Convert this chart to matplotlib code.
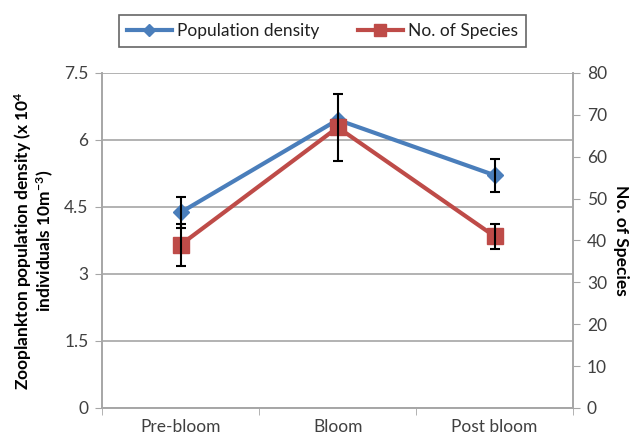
import numpy as np
import matplotlib
matplotlib.use("Agg")
import matplotlib.pyplot as plt
from matplotlib.lines import Line2D

plt.rcParams['font.family'] = ['Lato', 'DejaVu Sans']
plt.rcParams['mathtext.default'] = 'regular'

stages = ['Pre-bloom', 'Bloom', 'Post bloom']
density = [4.38, 6.45, 5.21]
density_err = [0.35, 0.0, 0.37]
species = [39, 67, 41]
species_err = [5, 8, 3]

left_ticks = [0, 1.5, 3, 4.5, 6, 7.5]
right_ticks = [0, 10, 20, 30, 40, 50, 60, 70, 80]

blue = '#4a7ebb'
red = '#be4b48'
grey = '#a6a6a6'

fig = plt.figure(figsize=(6.36, 4.42), dpi=100)
ax = fig.add_axes([0.161, 0.077, 0.740, 0.758])
ax2 = ax.twinx()

x = np.arange(len(stages))

ax.plot(x, density, color=blue, lw=3, marker='D', ms=8, zorder=3)
ax.errorbar(x, density, yerr=density_err, fmt='none', ecolor='black', elinewidth=1.5, capsize=3.5, capthick=1.5, zorder=4)
ax2.plot(x, species, color=red, lw=3, marker='s', ms=11, zorder=3)
ax2.errorbar(x, species, yerr=species_err, fmt='none', ecolor='black', elinewidth=1.5, capsize=3.5, capthick=1.5, zorder=4)

ax.set_xlim(-0.5, 2.5)
ax.set_ylim(0, 7.5)
ax2.set_ylim(0, 80)
ax.set_yticks(left_ticks)
ax.set_yticklabels(['0', '1.5', '3', '4.5', '6', '7.5'])
ax2.set_yticks(right_ticks)

ax.set_xticks(x)
ax.set_xticklabels(stages, fontsize=12.5, color='#404040')
ax.set_xticks([-0.5, 0.5, 1.5, 2.5], minor=True)
ax.tick_params(axis='x', which='major', length=0, pad=8)
ax.tick_params(axis='x', which='minor', length=5, color=grey, direction='out')
ax.tick_params(axis='y', length=5, color=grey, labelsize=12.5, labelcolor='#404040', pad=5)
ax2.tick_params(axis='y', length=5, color=grey, labelsize=12.5, labelcolor='#404040', pad=5)

ax.grid(axis='y', color=grey, lw=1.2)
ax.set_axisbelow(True)
for a in (ax, ax2):
    a.spines['top'].set_visible(False)
    for s in ('left', 'right', 'bottom'):
        a.spines[s].set_color(grey)
        a.spines[s].set_linewidth(1.2)

ax.set_ylabel('Zooplankton population density (x 10$^4$\nindividuals 10m$^{-3}$)',
              fontsize=12.5, fontweight='bold', linespacing=1.05, labelpad=6)
ax2.set_ylabel('No. of Species', fontsize=12.5, fontweight='bold', rotation=270, labelpad=16)

handles = [Line2D([0], [0], color=blue, lw=3, marker='D', ms=6),
           Line2D([0], [0], color=red, lw=3, marker='s', ms=9)]
leg = fig.legend(handles, ['Population density', 'No. of Species'], loc='center',
                 bbox_to_anchor=(0.507, 0.930), ncol=2, frameon=True, fancybox=False,
                 fontsize=12.5, handlelength=2.6, handletextpad=0.3, columnspacing=2.2,
                 borderpad=0.45, borderaxespad=0)
leg.get_frame().set_edgecolor('#404040')
leg.get_frame().set_linewidth(1.2)
for t in leg.get_texts():
    t.set_color('#202020')

fig.savefig('out.png', dpi=100)
